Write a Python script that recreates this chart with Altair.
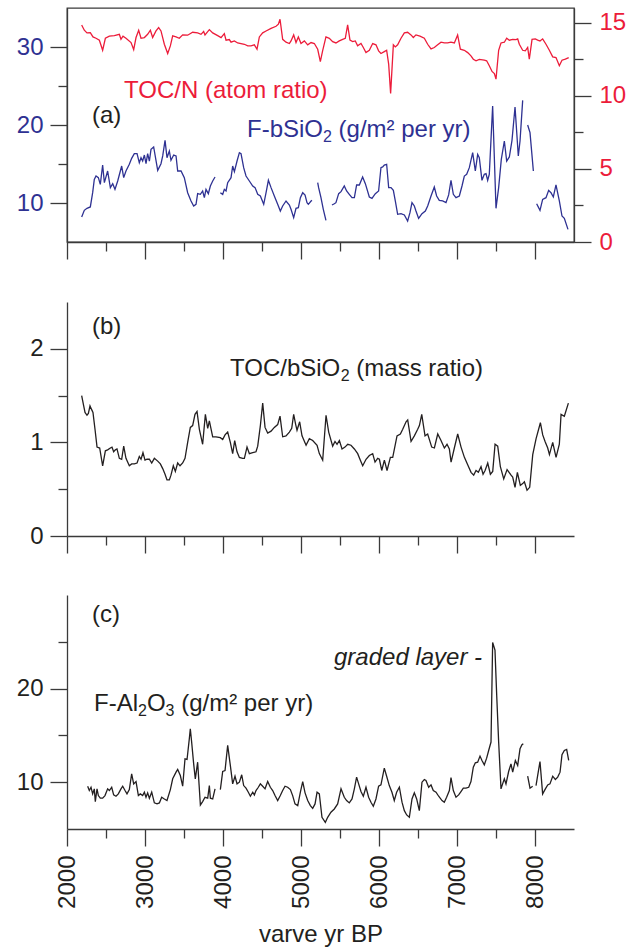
import altair as alt
import pandas as pd

FONT = "Liberation Sans"
BLUE = "#2e3192"
RED = "#ec1c3a"
INK = "#231f20"
AX = "#3a3a3a"
W, H = 507, 234
XDOM = [2000, 8500]
X_MAJOR = [2000, 3000, 4000, 5000, 6000, 7000, 8000]
X_MINOR = [2500, 3500, 4500, 5500, 6500, 7500]

# ---------------- panel (a): TOC/N (atom ratio), right axis ----------------
tocn_year = [2188, 2222, 2256, 2299, 2333, 2372, 2415, 2457, 2492, 2543, 2607, 2671, 2692, 2718, 2756,
             2821, 2855, 2885, 2919, 2949, 2992, 3034, 3069, 3098, 3141, 3175, 3205, 3248, 3291, 3325,
             3355, 3398, 3440, 3483, 3547, 3611, 3675, 3718, 3752, 3769, 3804, 3825, 3868, 3932, 3975,
             4017, 4039, 4081, 4103, 4146, 4188, 4231, 4274, 4317, 4359, 4402, 4436, 4466, 4509, 4552,
             4616, 4680, 4710, 4731, 4765, 4808, 4851, 4872, 4906, 4936, 4966, 5000, 5043, 5086, 5129,
             5171, 5214, 5248, 5277, 5320, 5363, 5406, 5448, 5491, 5534, 5568, 5598, 5628, 5662, 5696,
             5726, 5769, 5799, 5833, 5876, 5919, 5961, 5995, 6025, 6068, 6098, 6124, 6149, 6184, 6209,
             6239, 6282, 6325, 6367, 6410, 6440, 6474, 6525, 6581, 6624, 6667, 6709, 6752, 6795, 6837,
             6880, 6923, 6966, 7008, 7043, 7094, 7137, 7179, 7209, 7244, 7286, 7350, 7380, 7414, 7449,
             7479, 7500, 7534, 7564, 7607, 7637, 7671, 7714, 7756, 7778, 7799, 7842, 7876, 7906, 7927,
             7962, 8004, 8034, 8064, 8098, 8141, 8184, 8227, 8269, 8312, 8346, 8389, 8432]
tocn_val = [14.84, 14.48, 14.30, 14.32, 14.02, 13.93, 13.80, 13.11, 13.93, 14.07, 14.11, 14.20, 13.86, 14.07, 13.93,
            13.64, 13.16, 13.98, 14.48, 13.93, 13.98, 14.20, 14.48, 13.98, 14.43, 14.66, 14.43, 13.52, 12.89, 13.41,
            14.09, 14.02, 13.93, 14.16, 14.14, 14.34, 14.30, 14.20, 14.39, 14.16, 14.39, 14.52, 14.30, 14.11, 13.98,
            14.25, 13.80, 13.84, 13.66, 13.75, 13.61, 13.57, 13.52, 13.41, 13.41, 13.48, 13.18, 14.02, 14.30, 14.43,
            14.61, 14.75, 14.89, 15.23, 13.86, 13.66, 13.57, 13.75, 14.16, 13.64, 14.02, 13.57, 13.75, 13.48, 13.64,
            13.57, 13.18, 12.34, 13.07, 14.02, 13.93, 13.70, 13.61, 13.75, 13.86, 13.93, 14.84, 13.80, 13.70, 13.75,
            13.41, 13.57, 13.30, 12.95, 13.11, 13.57, 13.48, 13.07, 12.89, 13.02, 13.11, 12.16, 10.16, 13.48, 13.34,
            13.48, 13.93, 14.30, 14.34, 14.16, 13.98, 14.16, 14.07, 13.93, 13.52, 13.20, 13.30, 13.48, 13.66, 13.61,
            13.61, 13.66, 13.61, 14.16, 13.18, 13.11, 12.95, 12.73, 12.50, 12.39, 12.48, 12.43, 12.39, 12.05, 11.66,
            11.52, 11.14, 13.11, 13.61, 13.66, 13.93, 13.80, 13.86, 13.84, 13.89, 13.52, 13.11, 13.07, 13.30, 12.50,
            13.86, 13.89, 13.80, 13.75, 13.89, 13.52, 13.11, 12.66, 12.61, 12.05, 12.43, 12.50, 12.61]

# ---------------- panel (a): F-bSiO2 (g/m2 per yr), left axis, six pieces ----------------
bsio2_year = [2188, 2222, 2256, 2299, 2329, 2350, 2372, 2402, 2427, 2457, 2479, 2521, 2556, 2586, 2615,
              2650, 2701, 2727, 2756, 2799, 2829, 2863, 2898, 2927, 2949, 2970, 2992, 3013, 3034, 3056,
              3077, 3111, 3163, 3205, 3227, 3257, 3282, 3312, 3333, 3368, 3398, 3419, 3462, 3504, 3547,
              3590, 3624, 3654, 3675, 3710, 3739, 3761, 3782, 3812, 3838, 3868, 3898,
              3966, 3996, 4017, 4039, 4060, 4103, 4124, 4146, 4180, 4210, 4231, 4265, 4295, 4338, 4381,
              4411, 4445, 4479, 4522, 4552, 4582, 4616, 4658, 4701, 4735, 4765, 4808, 4851, 4872, 4906,
              4936, 4966, 4992, 5022, 5052, 5077, 5094, 5129, 5141,
              5214, 5226, 5256, 5286, 5320,
              5397, 5427, 5448, 5483, 5513, 5555, 5585, 5619, 5654, 5684, 5713, 5748, 5790, 5825, 5876,
              5910, 5953, 5995, 6025, 6047, 6068, 6098, 6124, 6154, 6184, 6209, 6239, 6282, 6325, 6367,
              6397, 6423, 6453, 6474, 6508, 6551, 6594, 6624, 6667, 6709, 6739, 6773, 6816, 6859, 6893,
              6923, 6953, 6987, 7030, 7064, 7094, 7124, 7158, 7201, 7235, 7265, 7286, 7320, 7350, 7372,
              7393, 7414, 7457, 7500, 7534, 7568, 7607, 7637, 7671, 7705, 7744, 7786, 7808, 7842,
              7906, 7936, 7979,
              8021, 8064, 8098, 8141, 8175, 8205, 8235, 8269, 8312, 8346, 8376, 8423]
bsio2_val = [8.21, 9.06, 9.32, 9.49, 11.32, 13.03, 13.46, 13.25, 12.39, 14.87, 12.61, 14.10, 11.97, 12.48, 11.75,
             12.82, 14.74, 13.25, 14.10, 14.96, 15.73, 16.32, 16.32, 15.17, 15.81, 15.38, 16.15, 15.04, 16.32, 15.38,
             16.88, 17.18, 14.19, 15.04, 16.03, 18.03, 15.81, 16.67, 15.47, 16.15, 16.03, 14.10, 14.10, 13.25, 11.32,
             10.26, 9.62, 9.83, 11.20, 11.11, 11.54, 10.68, 11.75, 11.20, 12.18, 12.82, 13.33,
             11.32, 11.11, 11.75, 11.54, 12.61, 13.25, 14.74, 14.02, 15.38, 16.45, 16.32, 14.53, 13.46, 12.82, 12.18,
             11.97, 11.11, 10.90, 9.83, 11.32, 12.91, 11.97, 10.90, 9.83, 8.97, 9.62, 10.26, 9.74, 9.19, 8.12,
             9.32, 9.40, 10.68, 11.32, 11.03, 10.04, 9.83, 10.26, 10.34,
             12.61, 11.97, 10.68, 9.19, 7.78,
             9.74, 9.91, 10.04, 11.20, 11.45, 12.18, 11.54, 11.11, 10.68, 10.68, 12.31, 12.31, 13.33, 12.48, 10.77,
             10.60, 11.20, 11.54, 14.53, 14.62, 14.87, 14.96, 11.97, 11.97, 11.62, 10.26, 8.55, 8.63, 8.46, 7.69,
             8.76, 10.04, 9.62, 8.97, 8.03, 8.63, 8.97, 9.62, 10.90, 12.05, 10.90, 10.34, 10.26, 10.04, 11.03,
             12.91, 11.11, 10.68, 10.90, 12.18, 13.46, 13.68, 14.53, 16.45, 14.10, 16.24, 15.81, 12.91, 13.68, 13.76,
             12.91, 13.68, 22.44, 9.32, 11.97, 15.60, 17.95, 15.38, 15.90, 18.03, 22.31, 16.03, 17.95, 23.16,
             20.00, 19.02, 14.10,
             9.91, 9.06, 10.47, 10.68, 11.62, 11.32, 10.77, 12.31, 10.26, 8.33, 8.03, 6.62]
bsio2_piece_sizes = [57, 39, 5, 74, 3, 12]

# ---------------- panel (b): TOC/bSiO2 (mass ratio) ----------------
ratio_year = [2188, 2214, 2231, 2256, 2274, 2295, 2316, 2333, 2359, 2385, 2419, 2457, 2492, 2521, 2556,
              2577, 2598, 2620, 2641, 2671, 2701, 2727, 2756, 2799, 2829, 2863, 2898, 2927, 2949, 2974,
              3000, 3026, 3056, 3086, 3120, 3163, 3197, 3227, 3257, 3282, 3312, 3333, 3363, 3389, 3419,
              3449, 3483, 3513, 3547, 3581, 3611, 3641, 3667, 3697, 3739, 3774, 3804, 3825, 3868, 3910,
              3966, 3996, 4026, 4060, 4094, 4124, 4150, 4180, 4210, 4252, 4274, 4308, 4338, 4381, 4423,
              4445, 4479, 4509, 4539, 4573, 4616, 4658, 4701, 4731, 4765, 4808, 4851, 4881, 4906, 4932,
              4949, 4983, 5013, 5065, 5107, 5150, 5206, 5235, 5278, 5321, 5355, 5406, 5436, 5462, 5492,
              5526, 5564, 5599, 5641, 5684, 5727, 5761, 5791, 5834, 5876, 5919, 5949, 5983, 6005, 6035,
              6069, 6103, 6146, 6176, 6231, 6274, 6304, 6347, 6368, 6411, 6453, 6496, 6518, 6548, 6590,
              6624, 6676, 6710, 6753, 6795, 6838, 6872, 6902, 6924, 6966, 7009, 7052, 7095, 7137, 7180,
              7214, 7244, 7274, 7308, 7334, 7360, 7394, 7428, 7458, 7488, 7522, 7556, 7599, 7642, 7693,
              7714, 7744, 7774, 7812, 7842, 7864, 7898, 7932, 7971, 8014, 8069, 8099, 8129, 8163, 8185,
              8227, 8270, 8312, 8334, 8376, 8428]
ratio_val = [1.50, 1.39, 1.32, 1.29, 1.31, 1.39, 1.35, 1.32, 1.14, 0.95, 0.94, 0.75, 0.91, 0.92, 0.94,
             0.95, 0.90, 0.92, 0.93, 0.83, 0.82, 0.96, 0.83, 0.75, 0.77, 0.77, 0.78, 0.85, 0.82, 0.89,
             0.81, 0.82, 0.82, 0.78, 0.83, 0.80, 0.77, 0.72, 0.66, 0.60, 0.60, 0.65, 0.75, 0.69, 0.78,
             0.75, 0.78, 0.83, 1.00, 1.16, 1.18, 1.30, 1.33, 1.14, 0.98, 1.30, 1.15, 1.23, 1.06, 1.06,
             1.05, 1.03, 1.08, 1.11, 1.00, 0.88, 1.02, 0.90, 0.84, 0.83, 0.83, 0.95, 0.88, 0.89, 0.90,
             0.96, 1.18, 1.42, 1.16, 1.10, 1.12, 1.16, 1.19, 1.28, 1.06, 1.07, 1.11, 1.15, 1.30, 1.19,
             1.13, 1.22, 1.07, 0.97, 1.04, 1.02, 0.97, 0.88, 0.81, 1.29, 1.11, 0.96, 1.01, 0.98, 1.02,
             0.93, 0.95, 0.98, 0.97, 0.93, 0.88, 0.81, 0.75, 0.82, 0.86, 0.88, 0.79, 0.83, 0.82, 0.70,
             0.81, 0.70, 0.84, 0.84, 1.07, 1.09, 1.14, 1.22, 1.24, 1.01, 1.07, 1.14, 1.18, 1.30, 1.07,
             1.09, 0.95, 0.94, 1.09, 1.02, 0.94, 0.98, 0.93, 0.79, 0.94, 1.09, 0.95, 0.84, 0.76, 0.68,
             0.65, 0.70, 0.68, 0.74, 0.66, 0.70, 0.78, 0.66, 0.69, 0.98, 0.96, 0.74, 0.61, 0.71, 0.65,
             0.63, 0.52, 0.68, 0.54, 0.56, 0.58, 0.49, 0.52, 0.87, 1.04, 1.21, 1.08, 1.01, 0.94, 0.87,
             1.00, 0.84, 0.98, 1.30, 1.28, 1.42]

# ---------------- panel (c): F-Al2O3 (g/m2 per yr), four pieces ----------------
al_year = [2265, 2286, 2308, 2329, 2350, 2363, 2385, 2402, 2427, 2457, 2487, 2521, 2543, 2573, 2598,
           2628, 2658, 2692, 2714, 2744, 2769, 2799, 2829, 2855, 2885, 2915, 2940, 2970, 2992, 3013,
           3034, 3056, 3086, 3120, 3154, 3184, 3214, 3248, 3282, 3325, 3355, 3398, 3419, 3453, 3483,
           3513, 3539, 3569, 3581, 3598, 3624, 3645, 3675, 3710, 3739, 3769, 3804, 3825, 3838, 3868, 3898,
           3966, 3996, 4026, 4060, 4094, 4124, 4154, 4180, 4210, 4240, 4265, 4295, 4325, 4351, 4381,
           4402, 4423, 4453, 4479, 4509, 4539, 4573, 4607, 4637, 4667, 4701, 4735, 4765, 4795, 4829,
           4864, 4893, 4923, 4958, 4992, 5022, 5052, 5086, 5120, 5150, 5180, 5206, 5235, 5269, 5312,
           5342, 5384, 5427, 5470, 5513, 5555, 5585, 5619, 5654, 5684, 5713, 5739, 5769, 5799, 5833,
           5867, 5897, 5927, 5961, 5995, 6025, 6068, 6098, 6132, 6166, 6196, 6226, 6261, 6295, 6325,
           6355, 6389, 6423, 6453, 6483, 6517, 6551, 6581, 6602, 6637, 6667, 6696, 6731, 6765, 6808,
           6837, 6867, 6902, 6923, 6953, 6987, 7021, 7051, 7081, 7115, 7150, 7179, 7209, 7235, 7265,
           7295, 7320, 7350, 7380, 7406, 7436, 7457, 7487, 7509, 7534, 7564, 7585, 7607, 7628, 7662,
           7692, 7714, 7748, 7778, 7808, 7833, 7850,
           7906, 7936, 7970,
           8013, 8034, 8064, 8098, 8133, 8163, 8192, 8227, 8261, 8291, 8321, 8346, 8376, 8406, 8432]
al_val = [9.57, 9.11, 9.46, 8.75, 9.29, 7.93, 9.29, 8.57, 8.29, 8.29, 8.57, 9.29, 9.11, 9.46, 8.64,
          8.50, 8.75, 9.29, 9.57, 9.11, 8.75, 9.21, 10.89, 9.82, 10.07, 8.57, 8.75, 8.57, 8.93, 8.39,
          8.86, 8.29, 8.93, 7.79, 7.68, 7.79, 8.39, 8.21, 8.04, 9.21, 10.36, 11.07, 11.36, 10.71, 9.57,
          12.50, 12.43, 14.71, 15.71, 14.29, 11.96, 10.36, 12.14, 7.57, 7.93, 8.39, 8.29, 9.64, 8.29, 8.21, 9.29,
          9.21, 11.14, 11.25, 13.93, 11.79, 9.82, 10.64, 9.82, 10.00, 10.79, 9.64, 9.36, 8.93, 8.50, 8.93,
          8.64, 9.11, 9.46, 9.82, 9.57, 9.29, 10.07, 9.46, 9.11, 8.57, 8.04, 8.57, 9.11, 9.57, 9.46,
          9.21, 8.57, 7.68, 7.50, 8.93, 10.07, 8.86, 8.04, 7.50, 7.21, 7.68, 8.93, 8.75, 6.25, 5.71,
          6.25, 6.79, 7.14, 7.68, 9.29, 8.39, 8.04, 7.79, 8.21, 9.29, 10.54, 9.82, 9.00, 8.50, 9.46,
          8.39, 7.86, 7.43, 8.21, 9.57, 9.71, 11.50, 10.64, 9.64, 8.93, 8.04, 8.93, 9.46, 7.86, 6.96,
          6.50, 6.25, 8.21, 8.86, 8.21, 6.96, 10.00, 10.29, 10.18, 9.46, 9.71, 9.11, 8.93, 8.50, 8.04,
          7.86, 8.39, 9.11, 10.50, 9.11, 8.39, 8.64, 9.00, 9.36, 9.36, 9.46, 10.07, 11.61, 12.07, 12.14,
          12.79, 12.32, 11.86, 12.57, 13.39, 14.29, 24.93, 24.11, 19.29, 14.29, 9.29, 9.82, 10.36, 9.82, 11.14,
          11.96, 11.07, 12.32, 11.79, 13.57, 14.00, 14.11,
          10.64, 9.36, 9.57,
          9.64, 10.71, 12.21, 8.75, 9.29, 9.71, 9.82, 10.64, 10.29, 10.54, 11.07, 12.93, 13.39, 13.50, 12.32]
al_piece_sizes = [61, 127, 3, 15]


def pieces(sizes):
    out = []
    for i, n in enumerate(sizes):
        out += [i + 1] * n
    return out


df_tocn = pd.DataFrame({"year": tocn_year, "val": tocn_val})
df_bsio2 = pd.DataFrame({"year": bsio2_year, "val": bsio2_val, "seg": pieces(bsio2_piece_sizes)})
df_ratio = pd.DataFrame({"year": ratio_year, "val": ratio_val})
df_al = pd.DataFrame({"year": al_year, "val": al_val, "seg": pieces(al_piece_sizes)})

XS = alt.Scale(domain=XDOM, nice=False, zero=False)


def major_axis(orient, values, labels=True, color=INK, **kw):
    return alt.Axis(orient=orient, values=values, tickSize=17, labels=labels, labelColor=color,
                    labelFont=FONT, labelFontSize=24, grid=False, domainColor=AX, domainWidth=1.3,
                    tickColor=AX, tickWidth=1.3, **kw)


def minor_axis(orient, values):
    return alt.Axis(orient=orient, values=values, tickSize=9, labels=False, domain=False, grid=False,
                    tickColor=AX, tickWidth=1.3, title=None)


def note(text, x, y, color=INK, italic=False, size=24):
    return alt.Chart(pd.DataFrame({"t": [text]})).mark_text(
        align="left", baseline="alphabetic", font=FONT, fontSize=size, color=color,
        fontStyle="italic" if italic else "normal"
    ).encode(x=alt.value(x), y=alt.value(y), text="t:N")


SUB = 16  # subscript font size
SUBW = 8.9  # subscript digit advance
SUBDY = 5

# ---------- panel (a) ----------
ys_blue = alt.Scale(domain=[5, 35], nice=False, zero=False)
ys_red = alt.Scale(domain=[0, 16], nice=False, zero=False)

a_blue = alt.Chart(df_bsio2).mark_line(color=BLUE, strokeWidth=1.3).encode(
    x=alt.X("year:Q", scale=XS, axis=major_axis("bottom", X_MAJOR, labels=False, title=None)),
    y=alt.Y("val:Q", scale=ys_blue, axis=major_axis("left", [10, 20, 30], color=BLUE, labelPadding=7, title=None)),
    detail="seg:N",
)
a_blue_minor = alt.Chart(df_bsio2).mark_point(opacity=0).encode(
    x=alt.X("year:Q", scale=XS, axis=minor_axis("bottom", X_MINOR)),
    y=alt.Y("val:Q", scale=ys_blue, axis=minor_axis("left", [15, 25])),
)
a_red = alt.Chart(df_tocn).mark_line(color=RED, strokeWidth=1.3).encode(
    x=alt.X("year:Q", scale=XS, axis=None),
    y=alt.Y("val:Q", scale=ys_red, axis=major_axis("right", [0, 5, 10, 15], color=RED, labelPadding=8, title=None)),
)
a_red_minor = alt.Chart(df_tocn).mark_point(opacity=0).encode(
    x=alt.X("year:Q", scale=XS, axis=None),
    y=alt.Y("val:Q", scale=ys_red, axis=minor_axis("right", [2.5, 7.5, 12.5])),
)
ax0, ay0 = 180, 129
panel_a = alt.layer(
    a_blue, a_blue_minor, a_red, a_red_minor,
    note("TOC/N (atom ratio)", 57, 90, RED),
    note("(a)", 25, 115),
    note("F-bSiO", ax0, ay0, BLUE),
    note("2", ax0 + 76.0, ay0 + SUBDY, BLUE, size=SUB),
    note("(g/m\u00b2 per yr)", ax0 + 76.0 + SUBW + 6.7, ay0, BLUE),
).resolve_scale(y="independent").resolve_axis(x="independent", y="independent").properties(
    width=W, height=H, view=alt.ViewBackground(stroke=AX, strokeWidth=1.3)
)

# ---------- panel (b) ----------
ys_b = alt.Scale(domain=[0, 2.5], nice=False, zero=False)
b_line = alt.Chart(df_ratio).mark_line(color=INK, strokeWidth=1.3).encode(
    x=alt.X("year:Q", scale=XS, axis=major_axis("bottom", X_MAJOR, labels=False, title=None)),
    y=alt.Y("val:Q", scale=ys_b, axis=major_axis("left", [0, 1, 2], labelPadding=7, title=None)),
)
b_minor = alt.Chart(df_ratio).mark_point(opacity=0).encode(
    x=alt.X("year:Q", scale=XS, axis=minor_axis("bottom", X_MINOR)),
    y=alt.Y("val:Q", scale=ys_b, axis=minor_axis("left", [0.5, 1.5])),
)
bx0, by0 = 163, 74
panel_b = alt.layer(
    b_line, b_minor,
    note("(b)", 25, 32),
    note("TOC/bSiO", bx0, by0),
    note("2", bx0 + 110.7, by0 + SUBDY, size=SUB),
    note("(mass ratio)", bx0 + 110.7 + SUBW + 6.7, by0),
).resolve_axis(x="independent", y="independent").properties(width=W, height=H)

# ---------- panel (c) ----------
ys_c = alt.Scale(domain=[5, 30], nice=False, zero=False)
c_line = alt.Chart(df_al).mark_line(color=INK, strokeWidth=1.3).encode(
    x=alt.X("year:Q", scale=XS, axis=major_axis(
        "bottom", X_MAJOR, labels=True, format="d", labelAngle=-90, labelPadding=9, labelFlush=False,
        title="varve yr BP", titleFont=FONT, titleFontSize=24, titleFontWeight="normal",
        titleColor=INK, titlePadding=14)),
    y=alt.Y("val:Q", scale=ys_c, axis=major_axis("left", [10, 20], labelPadding=7, title=None)),
    detail="seg:N",
)
c_minor = alt.Chart(df_al).mark_point(opacity=0).encode(
    x=alt.X("year:Q", scale=XS, axis=minor_axis("bottom", X_MINOR)),
    y=alt.Y("val:Q", scale=ys_c, axis=minor_axis("left", [15, 25])),
)
cx0, cy0 = 27, 116
panel_c = alt.layer(
    c_line, c_minor,
    note("(c)", 25, 27),
    note("graded layer -", 267, 70, italic=True),
    note("F-Al", cx0, cy0),
    note("2", cx0 + 44.0, cy0 + SUBDY, size=SUB),
    note("O", cx0 + 44.0 + SUBW, cy0),
    note("3", cx0 + 44.0 + SUBW + 18.7, cy0 + SUBDY, size=SUB),
    note("(g/m\u00b2 per yr)", cx0 + 44.0 + SUBW + 18.7 + SUBW + 6.7, cy0),
).resolve_axis(x="independent", y="independent").properties(width=W, height=H)

chart = alt.vconcat(panel_a, panel_b, panel_c, spacing=41).properties(
    padding={"left": 15, "top": 7, "right": 0, "bottom": 0}
).configure_view(strokeWidth=0)

chart.save("out.html", embed_options={"renderer": "svg", "actions": False})
